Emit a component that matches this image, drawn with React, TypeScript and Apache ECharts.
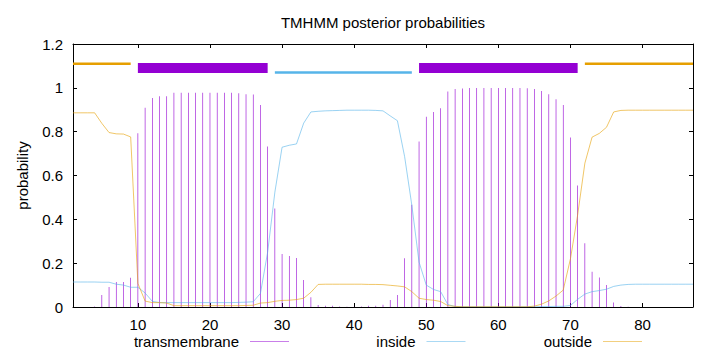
import React, { useEffect, useRef } from "react";
import * as echarts from "echarts";

// residue positions 1..87
const residues: number[] = [
  1, 2, 3, 4, 5, 6, 7, 8, 9, 10, 11, 12, 13, 14, 15, 16, 17, 18, 19, 20,
  21, 22, 23, 24, 25, 26, 27, 28, 29, 30, 31, 32, 33, 34, 35, 36, 37, 38, 39, 40,
  41, 42, 43, 44, 45, 46, 47, 48, 49, 50, 51, 52, 53, 54, 55, 56, 57, 58, 59, 60,
  61, 62, 63, 64, 65, 66, 67, 68, 69, 70, 71, 72, 73, 74, 75, 76, 77, 78, 79, 80,
  81, 82, 83, 84, 85, 86, 87,
];

const tmProb: number[] = [
  0, 0, 0, 0.002, 0.055, 0.091, 0.114, 0.114, 0.134, 0.793,
  0.909, 0.954, 0.962, 0.962, 0.977, 0.977, 0.977, 0.977, 0.977, 0.977,
  0.977, 0.977, 0.977, 0.975, 0.971, 0.97, 0.922, 0.732, 0.45, 0.242,
  0.233, 0.224, 0.123, 0.044, 0.009, 0.006, 0.006, 0.002, 0.001, 0.001,
  0.002, 0.006, 0.006, 0.01, 0.032, 0.055, 0.222, 0.466, 0.755, 0.868,
  0.89, 0.907, 0.983, 0.995, 0.997, 0.999, 0.999, 0.999, 0.999, 0.999,
  0.999, 0.999, 0.999, 0.998, 0.995, 0.986, 0.971, 0.948, 0.922, 0.773,
  0.554, 0.291, 0.161, 0.135, 0.1, 0.02, 0.004, 0.001, 0, 0,
  0, 0, 0, 0, 0, 0, 0,
];

const insideProb: number[] = [
  0.114, 0.114, 0.114, 0.114, 0.113, 0.113, 0.104, 0.1, 0.09, 0.09,
  0.064, 0.026, 0.02, 0.02, 0.02, 0.02, 0.02, 0.02, 0.02, 0.02,
  0.02, 0.02, 0.02, 0.021, 0.022, 0.024, 0.062, 0.25, 0.524, 0.729,
  0.738, 0.744, 0.839, 0.89, 0.893, 0.895, 0.896, 0.897, 0.898, 0.898,
  0.898, 0.898, 0.897, 0.895, 0.872, 0.85, 0.686, 0.464, 0.205, 0.1,
  0.08, 0.07, 0.011, 0.002, 0.001, 0.001, 0.001, 0.001, 0.001, 0.001,
  0.001, 0.001, 0.001, 0.001, 0.001, 0.002, 0.002, 0.003, 0.003, 0.007,
  0.035, 0.059, 0.07, 0.075, 0.081, 0.094, 0.1, 0.103, 0.104, 0.104,
  0.104, 0.104, 0.104, 0.104, 0.104, 0.104, 0.104,
];

const outsideProb: number[] = [
  0.886, 0.886, 0.886, 0.886, 0.838, 0.796, 0.79, 0.789, 0.776, 0.108,
  0.027, 0.02, 0.02, 0.018, 0.006, 0.006, 0.006, 0.006, 0.006, 0.006,
  0.006, 0.006, 0.006, 0.006, 0.007, 0.008, 0.018, 0.02, 0.026, 0.03,
  0.031, 0.034, 0.04, 0.067, 0.103, 0.104, 0.104, 0.104, 0.104, 0.104,
  0.104, 0.103, 0.103, 0.102, 0.099, 0.096, 0.092, 0.07, 0.04, 0.034,
  0.031, 0.025, 0.006, 0.003, 0.001, 0.001, 0.001, 0.001, 0.001, 0.001,
  0.001, 0.001, 0.001, 0.001, 0.004, 0.013, 0.028, 0.05, 0.077, 0.22,
  0.42, 0.656, 0.775, 0.792, 0.82, 0.89, 0.897, 0.898, 0.898, 0.898,
  0.898, 0.898, 0.898, 0.898, 0.898, 0.898, 0.898,
];

// predicted topology segments [start, end]
const outsideSegments: number[][] = [[1, 9], [72, 87]];
const tmSegments: number[][] = [[10, 28], [49, 71]];
const insideSegments: number[][] = [[29, 48]];

const xTickValues: number[] = [10, 20, 30, 40, 50, 60, 70, 80];

const FONT = "Liberation Sans";
const TM_COLOR = "#9400d3";
const IN_COLOR = "#56b4e9";
const OUT_COLOR = "#e69f00";
const THIN = 0.6;

export default function App() {
  const ref = useRef<HTMLDivElement>(null);

  useEffect(() => {
    if (!ref.current) return;
    const chart = echarts.init(ref.current, null, { renderer: "svg" });

    const segSeries = (segs: number[][], level: number, color: string, width: number) =>
      segs.map((s) => ({
        type: "line",
        data: [
          [s[0], level],
          [s[1], level],
        ],
        symbol: "none",
        silent: true,
        lineStyle: { color, width, cap: "butt" },
        z: 3,
      }));

    const legendItem = (name: string, right: number) => ({
      data: [name],
      right,
      top: 334,
      padding: 0,
      align: "right",
      orient: "horizontal",
      itemWidth: 39,
      itemHeight: THIN,
      icon: "rect",
      selectedMode: false,
      formatter: "{t|{name}}",
      textStyle: {
        fontFamily: FONT,
        fontSize: 15,
        color: "#000",
        rich: { t: { fontFamily: FONT, fontSize: 15, color: "#000", padding: [0, 6, 0, 0] } },
      },
    });

    const tickStyle = { show: true, inside: true, length: 4, lineStyle: { color: "#000" } };

    chart.setOption({
      animation: false,
      textStyle: { fontFamily: FONT, color: "#000" },
      title: {
        text: "TMHMM posterior probabilities",
        left: 383,
        top: 15,
        padding: 0,
        textAlign: "center",
        textStyle: { fontFamily: FONT, fontSize: 15, fontWeight: "normal", color: "#000" },
      },
      grid: { left: 73, right: 27, top: 44, bottom: 45, containLabel: false },
      legend: [
        legendItem("transmembrane", 720 - 289),
        legendItem("inside", 720 - 465.5),
        legendItem("outside", 720 - 642),
      ],
      xAxis: [
        {
          type: "value",
          min: 1,
          max: 87,
          position: "bottom",
          axisLine: { show: true, onZero: false, lineStyle: { color: "#000", width: 1 } },
          axisTick: { ...tickStyle, customValues: xTickValues },
          axisLabel: {
            customValues: xTickValues,
            margin: 10,
            fontFamily: FONT,
            fontSize: 15,
            color: "#000",
          },
          splitLine: { show: false },
        },
        {
          type: "value",
          min: 1,
          max: 87,
          position: "top",
          axisLine: { show: true, onZero: false, lineStyle: { color: "#000", width: 1 } },
          axisTick: { ...tickStyle, customValues: xTickValues },
          axisLabel: { show: false },
          splitLine: { show: false },
        },
      ],
      yAxis: [
        {
          type: "value",
          min: 0,
          max: 1.2,
          interval: 0.2,
          position: "left",
          name: "probability",
          nameLocation: "middle",
          nameGap: 43,
          nameTextStyle: { fontFamily: FONT, fontSize: 15, color: "#000" },
          axisLine: { show: true, onZero: false, lineStyle: { color: "#000", width: 1 } },
          axisTick: tickStyle,
          axisLabel: { margin: 10, fontFamily: FONT, fontSize: 15, color: "#000" },
          splitLine: { show: false },
        },
        {
          type: "value",
          min: 0,
          max: 1.2,
          interval: 0.2,
          position: "right",
          axisLine: { show: true, onZero: false, lineStyle: { color: "#000", width: 1 } },
          axisTick: tickStyle,
          axisLabel: { show: false },
          splitLine: { show: false },
        },
      ],
      series: [
        {
          name: "transmembrane",
          type: "bar",
          xAxisIndex: 0,
          yAxisIndex: 0,
          barWidth: THIN,
          barMinWidth: THIN,
          itemStyle: { color: TM_COLOR },
          data: residues.map((r, i) => [r, tmProb[i]]),
          z: 2,
        },
        {
          name: "inside",
          type: "line",
          data: residues.map((r, i) => [r, insideProb[i]]),
          symbol: "none",
          itemStyle: { color: IN_COLOR },
          lineStyle: { color: IN_COLOR, width: THIN },
          z: 3,
        },
        {
          name: "outside",
          type: "line",
          data: residues.map((r, i) => [r, outsideProb[i]]),
          symbol: "none",
          itemStyle: { color: OUT_COLOR },
          lineStyle: { color: OUT_COLOR, width: THIN },
          z: 3,
        },
        ...segSeries(outsideSegments, 1.11, OUT_COLOR, 2.5),
        ...segSeries(tmSegments, 1.09, TM_COLOR, 10),
        ...segSeries(insideSegments, 1.07, IN_COLOR, 2.5),
      ],
    });

    return () => chart.dispose();
  }, []);

  return <div ref={ref} style={{ width: 720, height: 352, position: "absolute", left: 0, top: 0 }} />;
}
